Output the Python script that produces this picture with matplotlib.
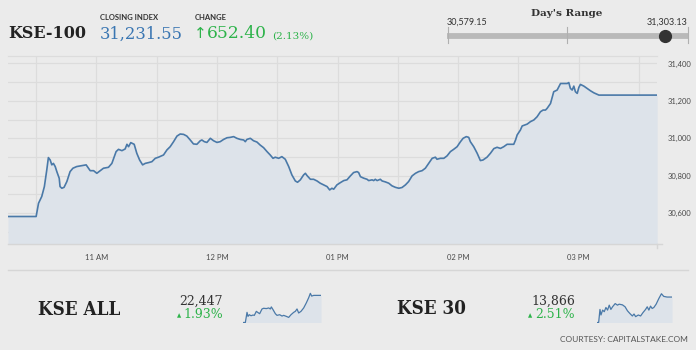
import matplotlib
matplotlib.use("Agg")
import matplotlib.pyplot as plt
from matplotlib.transforms import Affine2D

# KSE-100 intraday (minutes after 10:00, index level)
kse100_minutes = [
    16.0, 30.0, 31.2, 32.8, 34.1, 35.3, 36.1, 37.0, 37.8, 38.6, 39.5, 40.3, 41.5, 41.9,
    42.8, 43.9, 45.3, 46.9, 48.3, 50.2, 52.7, 54.9, 56.1, 56.9, 58.6, 60.2, 61.9, 63.5,
    66.0, 67.7, 69.8, 71.0, 72.7, 74.3, 75.2, 76.0, 77.1, 78.8, 80.1, 81.5, 83.0, 84.3,
    85.9, 87.6, 89.3, 90.9, 93.4, 95.1, 96.7, 98.4, 100.1, 101.7, 103.4, 105.0, 106.7,
    108.3, 110.0, 111.7, 112.5, 113.7, 115.0, 116.7, 118.3, 120.0, 121.6, 123.3, 125.0,
    126.6, 128.3, 129.9, 131.6, 133.3, 134.1, 134.9, 136.6, 138.2, 139.9, 141.5, 143.2,
    144.9, 146.5, 147.9, 149.0, 150.7, 152.3, 154.0, 155.7, 157.3, 159.0, 160.1, 161.5,
    163.1, 164.0, 164.8, 166.5, 168.1, 169.8, 171.4, 173.1, 174.8, 176.1, 177.2, 178.1,
    179.7, 181.4, 183.1, 184.7, 186.4, 188.0, 189.7, 190.5, 191.4, 193.0, 194.7, 195.5,
    197.2, 198.0, 198.8, 199.7, 201.3, 202.2, 203.8, 205.5, 207.1, 208.8, 210.5, 212.1,
    213.8, 215.4, 217.1, 218.8, 220.4, 222.1, 223.7, 225.4, 227.1, 228.7, 229.5, 231.2,
    232.9, 234.5, 236.2, 237.8, 239.5, 241.2, 242.5, 244.1, 245.3, 246.1, 247.8, 249.5,
    251.1, 252.4, 254.4, 256.1, 257.8, 259.4, 261.1, 262.7, 264.4, 266.1, 267.7, 268.6,
    269.4, 271.0, 271.9, 274.4, 276.0, 277.7, 279.3, 281.0, 282.3, 283.5, 284.3, 286.0,
    287.6, 289.3, 290.1, 291.0, 292.6, 294.3, 295.1, 295.9, 296.8, 297.6, 298.4, 299.3,
    300.1, 300.9, 302.6, 304.2, 305.9, 307.6, 310.1, 339.1,
]
kse100_values = [
    30582, 30582, 30653, 30689, 30742, 30831, 30897, 30884, 30858, 30866, 30849, 30822, 30786, 30742,
    30733, 30738, 30769, 30822, 30840, 30849, 30854, 30858, 30840, 30827, 30827, 30813, 30827, 30840,
    30845, 30866, 30929, 30941, 30934, 30943, 30968, 30955, 30977, 30968, 30920, 30884, 30858, 30866,
    30870, 30875, 30893, 30899, 30911, 30938, 30955, 30982, 31012, 31023, 31021, 31012, 30991,
    30970, 30968, 30987, 30991, 30982, 30978, 31000, 30987, 30978, 30982, 30994, 31003,
    31005, 31009, 31000, 30994, 30991, 30982, 30994, 31000, 30987, 30980, 30964, 30950,
    30929, 30911, 30893, 30899, 30893, 30902, 30888, 30849, 30804, 30772, 30765, 30778,
    30804, 30813, 30801, 30781, 30781, 30772, 30760, 30751, 30742, 30724, 30733, 30728,
    30751, 30763, 30774, 30778, 30799, 30817, 30822, 30817, 30795, 30787, 30781, 30774,
    30778, 30774, 30781, 30774, 30781, 30772, 30767, 30760, 30746, 30738, 30733, 30737,
    30751, 30769, 30799, 30813, 30822, 30827, 30840, 30866, 30893, 30899, 30888, 30893,
    30893, 30906, 30929, 30941, 30955, 30982, 31000, 31009, 31005, 30982, 30955, 30920,
    30881, 30884, 30899, 30920, 30945, 30952, 30946, 30955, 30968, 30968, 30968, 30991,
    31018, 31044, 31066, 31076, 31089, 31098, 31115, 31142, 31151, 31151, 31160, 31186,
    31249, 31258, 31275, 31293, 31293, 31293, 31298, 31267, 31258, 31279, 31249, 31240,
    31272, 31288, 31279, 31267, 31254, 31243, 31231, 31231,
]

hour_ticks = [60, 120, 180, 240, 300]
hour_labels = ["11 AM", "12 PM", "01 PM", "02 PM", "03 PM"]
level_ticks = [30600, 30800, 31000, 31200, 31400]

# small sparklines for the other indices
kse_all_minutes = [
    16.0, 25.7, 32.6, 36.7, 42.2, 49.1, 57.4, 62.9, 71.2, 76.7, 85.0, 94.7, 101.6,
    112.6, 122.3, 129.2, 133.3, 140.2, 149.9, 156.8, 167.8, 177.5, 184.4, 195.4, 205.1,
    214.7, 225.8, 232.7, 239.6, 246.5, 256.1, 267.2, 278.2, 287.9, 294.8, 300.3, 308.6, 338.9,
]
kse_all_values = [
    22022, 22022, 22181, 22118, 22144, 22128, 22139, 22134, 22197, 22181, 22160, 22234, 22245,
    22240, 22250, 22234, 22266, 22224, 22160, 22134, 22144, 22123, 22134, 22118, 22102,
    22144, 22181, 22197, 22234, 22171, 22197, 22250, 22330, 22410, 22479, 22436, 22447, 22447,
]
kse30_minutes = [
    16.0, 23.1, 28.8, 33.1, 40.2, 47.3, 54.4, 61.5, 68.7, 75.8, 82.9, 94.3, 104.2, 111.3,
    125.6, 137.0, 146.9, 156.9, 168.3, 175.4, 182.5, 193.9, 203.8, 213.8, 225.2, 232.3,
    239.4, 246.5, 253.6, 260.8, 270.7, 282.1, 293.5, 303.4, 317.7, 339.0,
]
kse30_values = [
    13527, 13527, 13701, 13627, 13692, 13671, 13727, 13692, 13758, 13701, 13736, 13779, 13758, 13771,
    13762, 13736, 13684, 13649, 13614, 13640, 13605, 13627, 13614, 13658, 13701, 13736,
    13692, 13745, 13714, 13727, 13771, 13845, 13910, 13875, 13866, 13866,
]

BG = "#ebebeb"
GRID = "#dcdcdc"
LINE = "#4a79a8"
FILL = "#dde3ea"
GREEN = "#2db34a"
BLUE = "#3a76b2"
SERIF = "DejaVu Serif"
SANS = "Lato"

W, H = 696, 350
fig = plt.figure(figsize=(W / 100, H / 100), dpi=100, facecolor=BG)
# place things in pixel coordinates measured from the top-left corner
px = Affine2D().scale(1 / W, -1 / H).translate(0, 1) + fig.transFigure


def box(left, top, right, bottom):
    return [left / W, 1 - bottom / H, (right - left) / W, (bottom - top) / H]


# main intraday chart
ax = fig.add_axes(box(8, 56, 657, 244))
ax.set_facecolor(BG)
ax.fill_between(kse100_minutes, kse100_values, 30435, color=FILL, lw=0)
ax.plot(kse100_minutes, kse100_values, color=LINE, lw=1.2)
ax.set_xlim(16, 339)
ax.set_ylim(30435, 31440)
ax.set_xticks(hour_ticks)
ax.set_xticklabels(hour_labels)
ax.set_xticks(range(30, 339, 30), minor=True)
ax.set_yticks(level_ticks)
ax.set_yticklabels([f"{v:,}" for v in level_ticks])
ax.set_yticks(range(30500, 31401, 100), minor=True)
ax.yaxis.tick_right()
ax.tick_params(which="both", length=0, colors="#4a4a4a", labelsize=5.5)
ax.tick_params(axis="x", pad=7)
ax.tick_params(axis="y", pad=8)
for lab in ax.get_xticklabels() + ax.get_yticklabels():
    lab.set_fontfamily(SANS)
ax.grid(True, which="both", color=GRID, lw=0.9)
ax.set_axisbelow(True)
for side in ["left", "right", "bottom"]:
    ax.spines[side].set_visible(False)
ax.spines["top"].set_color(GRID)
ax.spines["top"].set_linewidth(0.9)
fig.add_artist(plt.Line2D([8, 662], [244, 244], transform=px, color="#d6d6d6", lw=1))
fig.add_artist(plt.Line2D([657, 657], [244, 248], transform=px, color="#d6d6d6", lw=1))

# separator above the lower panel
fig.add_artist(plt.Line2D([8, 688], [270, 270], transform=px, color="#d6d6d6", lw=1))

# header
fig.text(8, 37.5, "KSE-100", transform=px, family=SERIF, weight="bold", fontsize=11.5, color="#222222")
fig.text(100, 19.5, "CLOSING INDEX", transform=px, family=SANS, weight="bold", fontsize=5.5, color="#333333")
fig.text(100, 38.5, "31,231.55", transform=px, family=SERIF, fontsize=11.8, color=BLUE)
fig.text(195, 19.5, "CHANGE", transform=px, family=SANS, weight="bold", fontsize=5.5, color="#333333")
fig.text(194, 38.5, "\u2191", transform=px, family="DejaVu Sans", fontsize=11, color=GREEN)
fig.text(207, 38.5, "652.40", transform=px, family=SERIF, fontsize=12.3, color=GREEN)
fig.text(272, 38.5, "(2.13%)", transform=px, family=SERIF, fontsize=7.5, color=GREEN)

# day's range slider
fig.text(567, 16, "Day's Range", transform=px, family=SERIF, weight="bold", fontsize=7.5,
         color="#333333", ha="center")
fig.text(447, 25, "30,579.15", transform=px, family=SANS, fontsize=6.5, color="#333333")
fig.text(688, 25, "31,303.13", transform=px, family=SANS, fontsize=6.5, color="#333333", ha="right")
fig.add_artist(plt.Line2D([447, 688], [35.5, 35.5], transform=px, color="#b9b9b9", lw=4.2,
                          solid_capstyle="butt"))
for xt in [447.5, 567, 687.5]:
    fig.add_artist(plt.Line2D([xt, xt], [27, 43], transform=px, color="#b0b0b0", lw=0.8))
fig.add_artist(plt.Line2D([665], [35.5], transform=px, marker="o", ms=8.5, color="#333333", lw=0))

# lower panel: KSE ALL and KSE 30
fig.text(38, 315, "KSE ALL", transform=px, family=SERIF, weight="bold", fontstretch="condensed",
         fontsize=13.5, color="#222222")
fig.text(223, 304.5, "22,447", transform=px, family=SERIF, fontsize=9, color="#333333", ha="right")
fig.text(177, 317.5, "\u25b2", transform=px, family="DejaVu Sans", fontsize=4, color=GREEN)
fig.text(223, 317.5, "1.93%", transform=px, family=SERIF, fontsize=9, color=GREEN, ha="right")

fig.text(397, 314.5, "KSE 30", transform=px, family=SERIF, weight="bold", fontstretch="condensed",
         fontsize=13.5, color="#222222")
fig.text(575, 304.5, "13,866", transform=px, family=SERIF, fontsize=9, color="#333333", ha="right")
fig.text(528, 317.5, "\u25b2", transform=px, family="DejaVu Sans", fontsize=4, color=GREEN)
fig.text(575, 317.5, "2.51%", transform=px, family=SERIF, fontsize=9, color=GREEN, ha="right")

fig.text(688, 342.5, "COURTESY: CAPITALSTAKE.COM", transform=px, family=SANS, fontsize=6,
         color="#555555", ha="right")

for rect, xs, ys, ylim in [
    (box(243, 292, 321, 322.5), kse_all_minutes, kse_all_values, (22022, 22500)),
    (box(597, 293, 672, 322.5), kse30_minutes, kse30_values, (13527, 13920)),
]:
    sp = fig.add_axes(rect)
    sp.fill_between(xs, ys, ylim[0], color=FILL, lw=0)
    sp.plot(xs, ys, color=LINE, lw=0.9)
    sp.set_xlim(xs[0], xs[-1])
    sp.set_ylim(*ylim)
    sp.axis("off")

fig.savefig("out.png", dpi=100, facecolor=BG)
